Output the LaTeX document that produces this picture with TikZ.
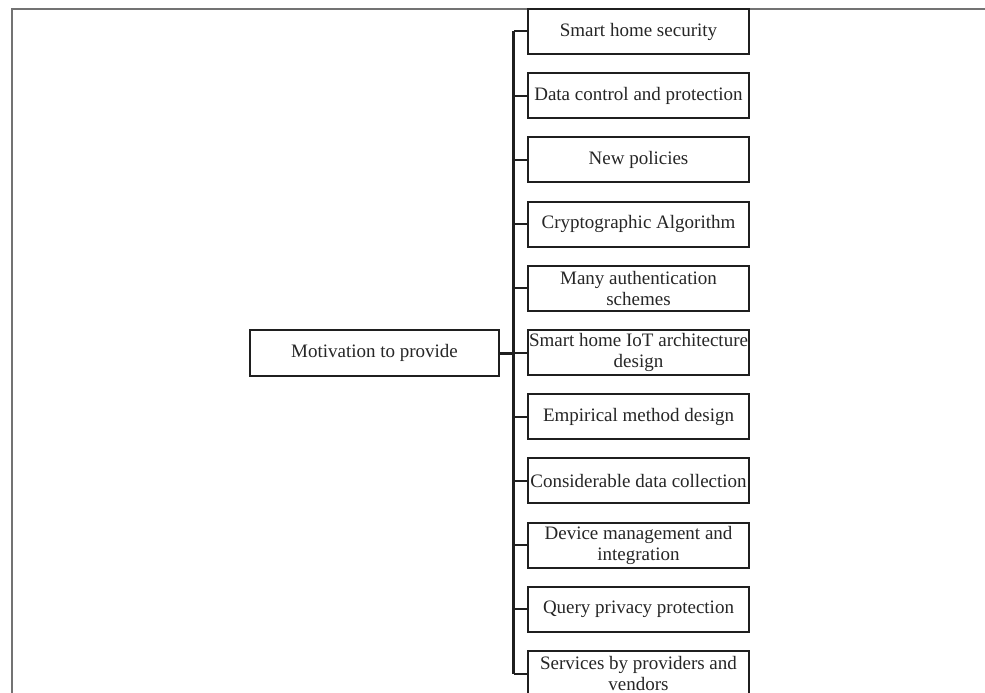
\documentclass[tikz,border=0pt]{standalone}
\usepackage{fontspec}
\setmainfont{Liberation Serif}
\begin{document}
\begin{tikzpicture}[x=1pt,y=-1pt,
  item/.style={draw=black!88, line width=2pt, fill=white, minimum width=221pt, minimum height=45pt,
    inner sep=0pt, align=center, font=\fontsize{19}{21}\selectfont, text=black!85},
  link/.style={line width=2pt, draw=black!88},
  spine/.style={line width=3pt, draw=black!88},
  frame/.style={draw=black!55, line width=2pt}]
\useasboundingbox (0,0) rectangle (985,693);
\clip (0,0) rectangle (985,693);
\draw[frame] (985,9) -- (12,9) -- (12,693);
\coordinate (spT) at (513.5,31.5);
\coordinate (spB) at (513.5,673.5);
\draw[spine] (spT) -- (spB);
\foreach \t [count=\i] in {
  {Smart home security},
  {Data control and protection},
  {New policies},
  {Cryptographic Algorithm},
  {Many authentication\\schemes},
  {Smart home IoT architecture\\design},
  {Empirical method design},
  {Considerable data collection},
  {Device management and\\integration},
  {Query privacy protection},
  {Services by providers and\\vendors}}{
  \node[item] (b\i) at (638.5,{31.5+64.2*(\i-1)}) {\t};
  \draw[link] (b\i.west) -- (b\i.west -| spT);
}
\node[item, minimum width=249pt, minimum height=46pt] (m) at (374.5,353) {Motivation to provide};
\draw[spine] (m.east) -- (m.east -| spT);
\end{tikzpicture}
\end{document}
